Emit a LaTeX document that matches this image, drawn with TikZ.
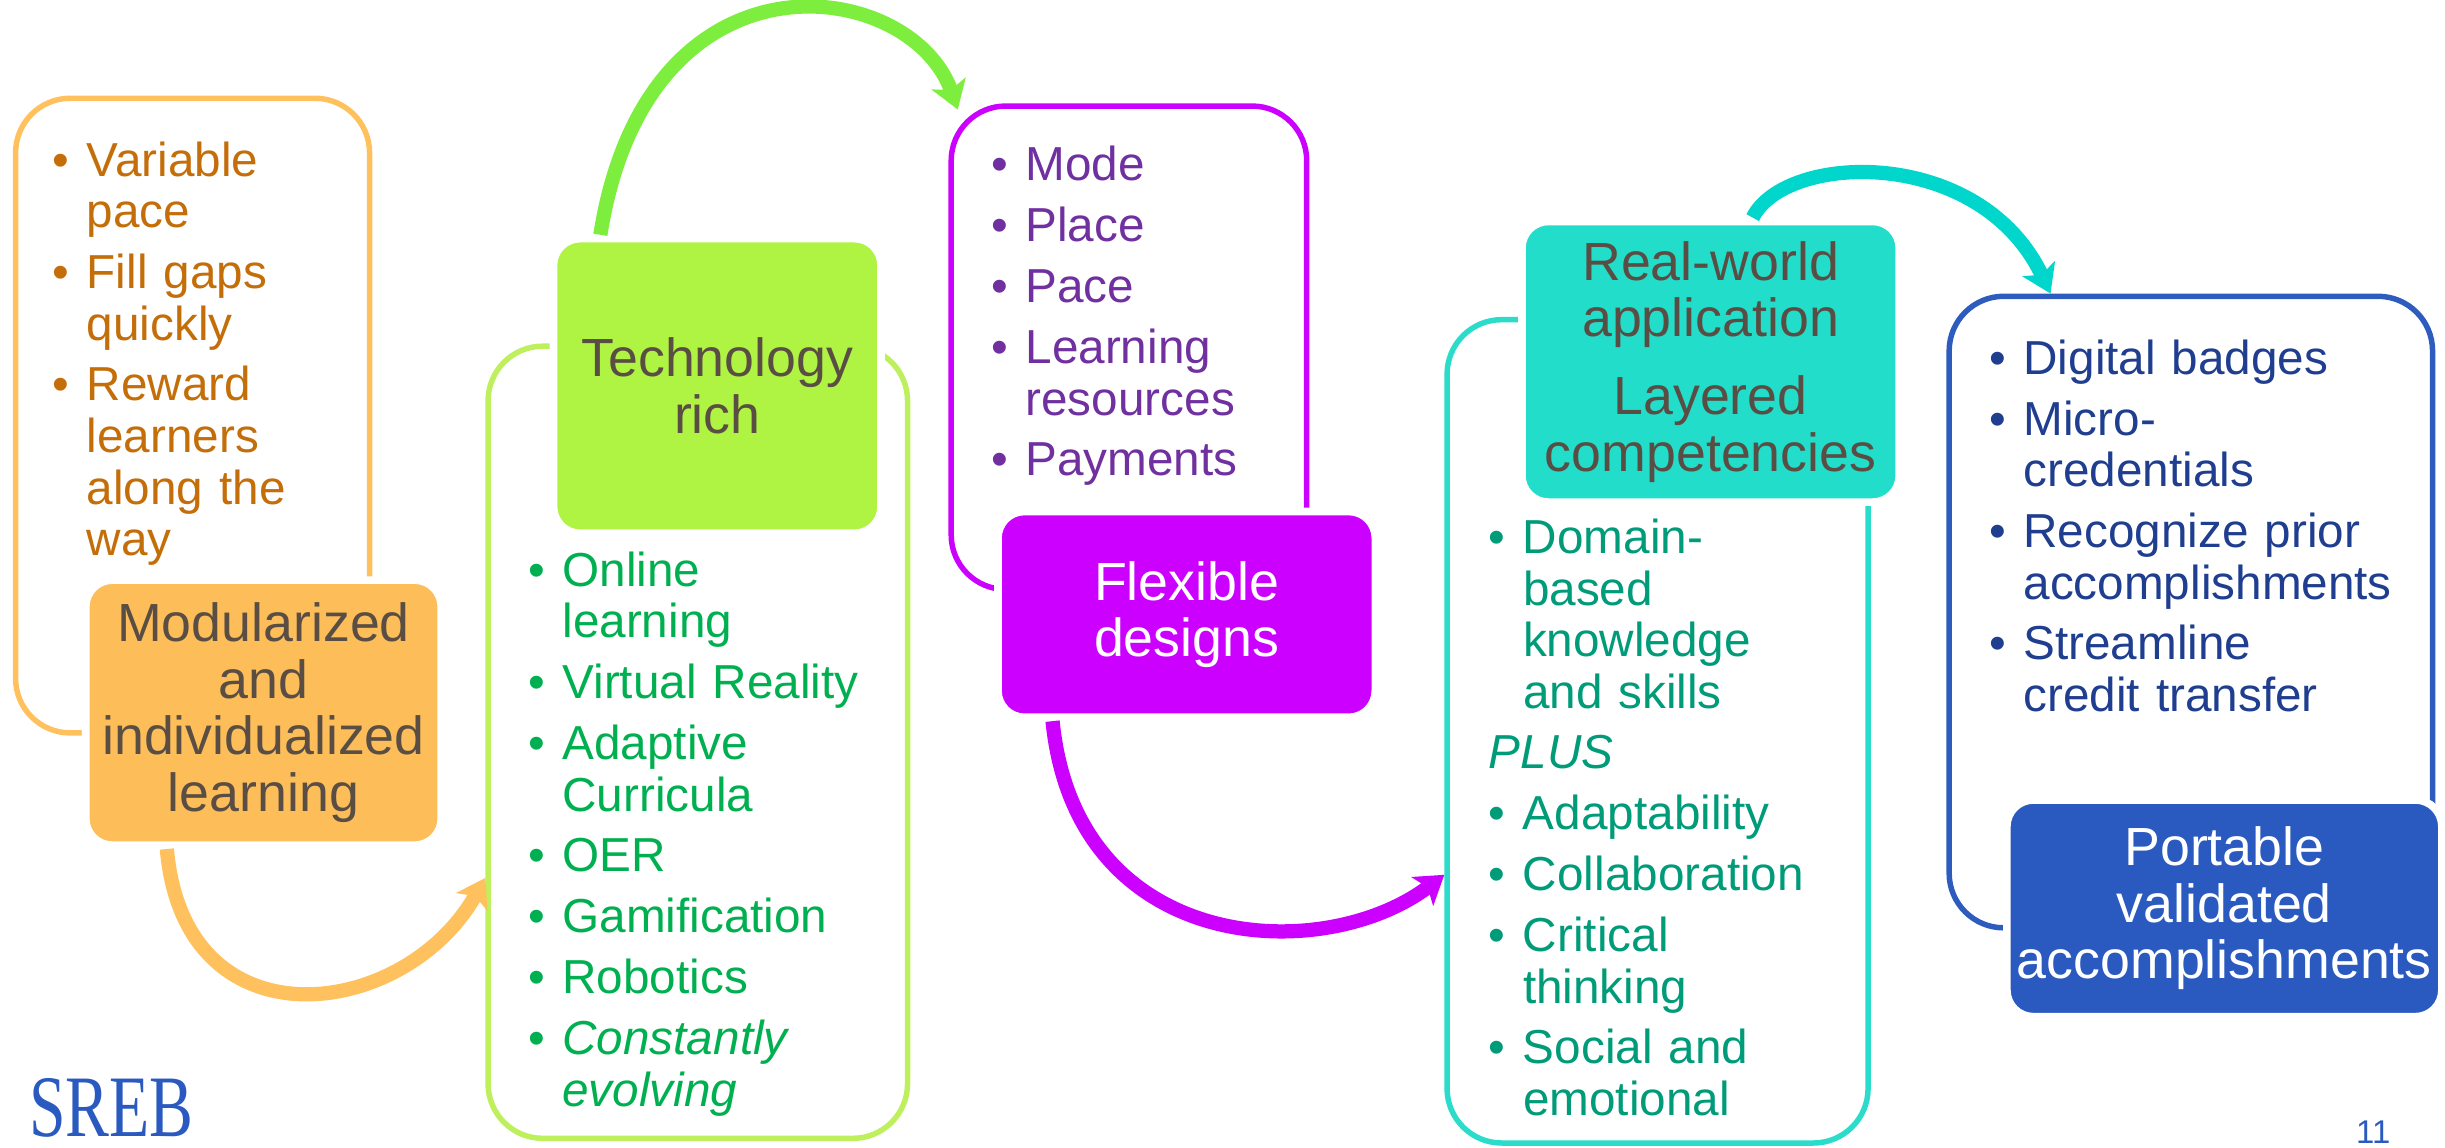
\documentclass[tikz,border=0pt]{standalone}
\usepackage{fontspec}
\setmainfont{Liberation Sans}
\newfontfamily\logofont{Liberation Serif}
\usepackage{graphicx}
\usetikzlibrary{arrows.meta}
\definecolor{modline}{HTML}{FFC15E}
\definecolor{modfill}{HTML}{FDBE59}
\definecolor{modtext}{HTML}{C46E0A}
\definecolor{techline}{HTML}{BDF05C}
\definecolor{techfill}{HTML}{B0F443}
\definecolor{techtext}{HTML}{00B050}
\definecolor{techflow}{HTML}{7EEE3E}
\definecolor{flexline}{HTML}{CC00FF}
\definecolor{flextext}{HTML}{7030A0}
\definecolor{skillline}{HTML}{2BDCCB}
\definecolor{skillfill}{HTML}{22DDCA}
\definecolor{skilltext}{HTML}{009B78}
\definecolor{skillflow}{HTML}{00D6CC}
\definecolor{credline}{HTML}{2D5CBE}
\definecolor{credfill}{HTML}{2A5ABF}
\definecolor{credtext}{HTML}{1F3E8F}
\definecolor{headtext}{HTML}{5A4E44}
\newcommand{\itm}[1]{\noindent\hangindent=0.22cm\hangafter=1\makebox[0.22cm][l]{\textbullet}#1\par}
\tikzset{
  outline/.style={draw=#1, line width=1pt, rounded corners=0.35cm, inner sep=0pt},
  block/.style={fill=#1, draw=white, line width=1.4pt, rounded corners=0.17cm, inner sep=0pt, align=center, font=\fontsize{9.8}{10.3}\selectfont},
  listtxt/.style={text=#1, anchor=base west, inner sep=0pt, text width=2.9cm, align=left, font=\fontsize{8.7}{9.4}\selectfont, execute at begin node={\setlength{\parskip}{0.06cm}}},
  flow/.style={draw=#1, line width=2.6pt, -{Stealth[length=5pt,width=6.5pt,inset=1.2pt]}},
}

\begin{document}
\begin{tikzpicture}[x=1cm, y=-1cm]
  \useasboundingbox (0,0) rectangle (15.68,7.356);
  % frames
  \node[outline=modline, minimum width=2.27cm, minimum height=4.07cm] (modframe) at (1.235,2.665) {};
  \node[outline=techline, minimum width=2.69cm, minimum height=5.08cm] (techframe) at (4.475,4.76) {};
  \node[outline=flexline, minimum width=2.28cm, minimum height=3.10cm] (flexframe) at (7.24,2.23) {};
  \node[outline=skillline, minimum width=2.70cm, minimum height=5.28cm] (skillframe) at (10.63,4.69) {};
  \node[outline=credline, minimum width=3.10cm, minimum height=4.05cm] (credframe) at (14.05,3.925) {};
  % lists
  \node[listtxt=modtext] (modlist) at (0.33,1.13) {\itm{Variable\newline pace}\itm{Fill gaps\newline quickly}\itm{Reward\newline learners\newline along the\newline way}};
  \node[listtxt=techtext] (techlist) at (3.38,3.76) {\itm{Online\newline learning}\itm{Virtual Reality}\itm{Adaptive\newline Curricula}\itm{OER}\itm{Gamification}\itm{Robotics}\itm{\textit{Constantly\newline evolving}}};
  \node[listtxt=flextext] (flexlist) at (6.35,1.16) {\itm{Mode}\itm{Place}\itm{Pace}\itm{Learning\newline resources}\itm{Payments}};
  \node[listtxt=skilltext] (skilllist) at (9.54,3.55) {\itm{Domain-\newline based\newline knowledge\newline and skills}\noindent\textit{PLUS}\par\itm{Adaptability}\itm{Collaboration}\itm{Critical\newline thinking}\itm{Social and\newline emotional}};
  \node[listtxt=credtext] (credlist) at (12.75,2.40) {\itm{Digital badges}\itm{Micro-\newline credentials}\itm{Recognize prior\newline accomplishments}\itm{Streamline\newline credit transfer}};
  % boxes
  \node[block=modfill, text=headtext, minimum width=2.28cm, minimum height=1.70cm] (modbox) at (1.69,4.57) {Modularized\\and\\individualized\\learning};
  \node[block=techfill, text=headtext, minimum width=2.10cm, minimum height=1.89cm] (techbox) at (4.60,2.475) {Technology\\rich};
  \node[block=flexline, text=white, minimum width=2.42cm, minimum height=1.32cm] (flexbox) at (7.61,3.94) {Flexible\\designs};
  \node[block=skillfill, text=headtext, minimum width=2.42cm, minimum height=1.80cm] (skillbox) at (10.97,2.32) {Real-world\\application\\[0.14cm]Layered\\competencies};
  \node[block=credfill, text=white, minimum width=2.79cm, minimum height=1.39cm] (credbox) at (14.265,5.825) {Portable\\validated\\accomplishments};
  % arrows
  \draw[flow=modline] ([xshift=-0.62cm]modbox.south) .. controls +(0.11,1.28) and +(-0.52,0.92) .. ([yshift=-0.87cm]techframe.west);
  \draw[flow=techflow] ([xshift=-0.75cm]techbox.north) .. controls +(0.3,-1.9) and +(-0.3,-0.85) .. ([xshift=0.06cm,yshift=-0.04cm]flexframe.north west);
  \draw[flow=flexline] ([xshift=-0.86cm]flexbox.south) .. controls +(0.15,1.5) and +(-0.78,0.59) .. ([yshift=-0.92cm]skillframe.west);
  \draw[flow=skillflow] ([xshift=0.27cm]skillbox.north) .. controls +(0.21,-0.42) and +(-0.45,-0.95) .. ([xshift=-0.9cm]credframe.north);
  % logo and page number
  \node[text=credfill, anchor=base west, inner sep=0pt, font=\logofont\fontsize{16}{16}\selectfont] (logo) at (0.18,7.29) {\scalebox{0.75}[1]{SREB}};
  \node[text=credfill, anchor=base, inner sep=0pt, font=\fontsize{6}{7}\selectfont] (pageno) at (15.22,7.33) {11};
\end{tikzpicture}
\end{document}
